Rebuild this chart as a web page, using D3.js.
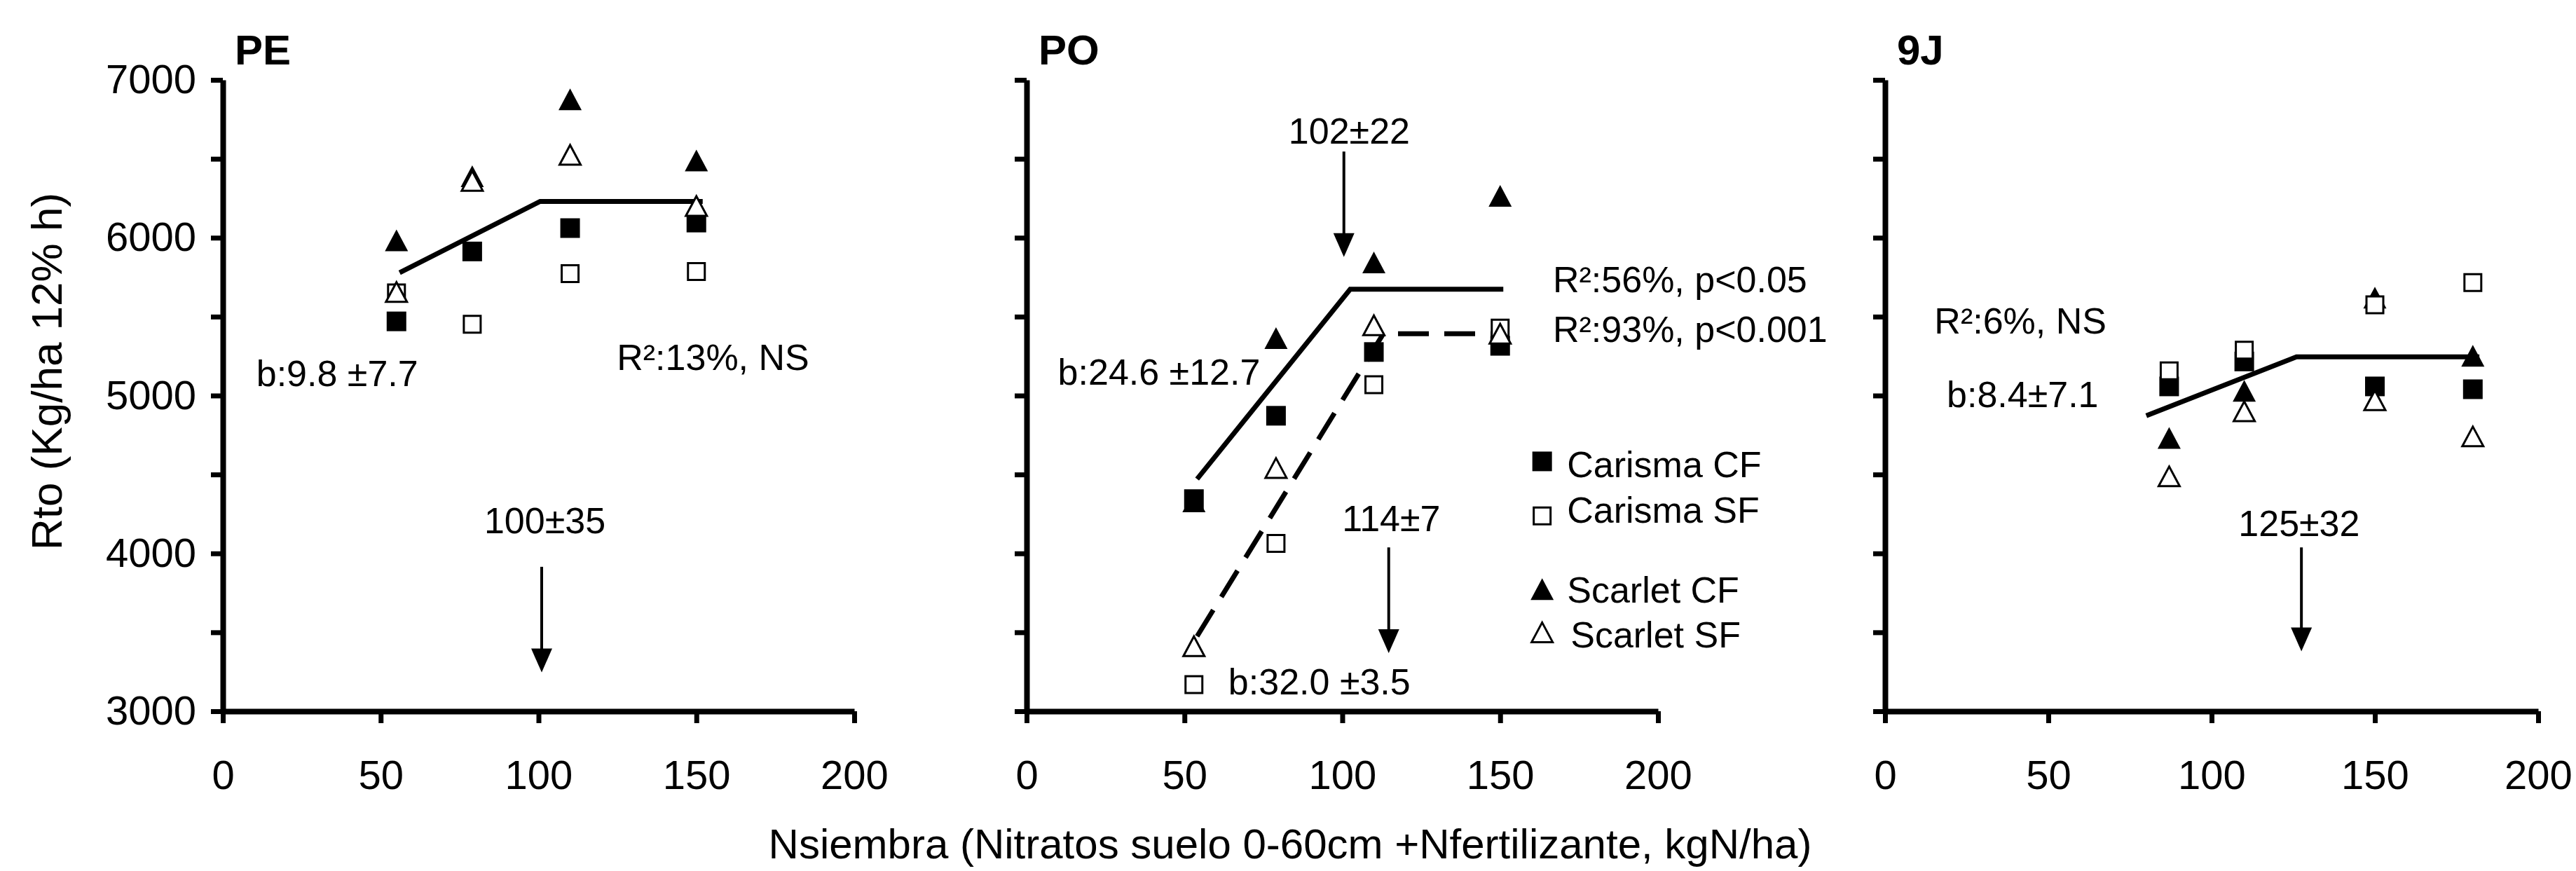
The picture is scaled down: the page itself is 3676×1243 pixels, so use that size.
<!DOCTYPE html>
<html>
<head>
<meta charset="utf-8">
<script src="https://cdn.jsdelivr.net/npm/d3@7"></script>
<style>
  body { margin: 0; background: #fff; }
  text { font-family: "Liberation Sans", Arial, sans-serif; fill: #000; }
</style>
</head>
<body>
<svg id="chart" width="3676" height="1243"></svg>
<script>
// N at sowing (kgN/ha) for each site
var xPE = [55, 79, 110, 150];
var xPO = [53, 79, 110, 150];
var x9J = [87, 110, 150, 180];

// yield (kg/ha 12% h), order follows the x arrays
var peCarismaCF = [5470, 5913, 6061, 6096];
var peCarismaSF = [5650, 5452, 5772, 5786];
var peScarletCF = [5983, 6390, 6877, 6490];
var peScarletSF = [5656, 6360, 6525, 6201];

var poCarismaCF = [4344, 4872, 5276, 5315];
var poCarismaSF = [3169, 4063, 5069, 5427];
var poScarletCF = [4330, 5364, 5843, 6265];
var poScarletSF = [3412, 4541, 5445, 5392];

var jCarismaCF = [5058, 5216, 5058, 5040];
var jCarismaSF = [5157, 5287, 5575, 5716];
var jScarletCF = [4731, 5030, 5620, 5252];
var jScarletSF = [4488, 4900, 4970, 4741];

// fitted linear-plateau models [x, y]
var peFit = [[56, 5779], [100.5, 6230], [152, 6230]];
var poFitCF = [[54, 4471], [102.5, 5674], [151, 5674]];
var poFitSF = [[54, 3475], [113, 5392], [150, 5392]];
var jFit = [[80, 4872], [126, 5245], [182, 5245]];

// critical N arrows [x, from, to]
var peArrow = [101, 3915, 3246];
var poArrows = [[100.5, 6546, 5878], [114.7, 4038, 3369]];
var jArrow = [127.5, 4038, 3380];

var xTicks = [0, 50, 100, 150, 200];
var yTicks = [3000, 3500, 4000, 4500, 5000, 5500, 6000, 6500, 7000];
var seriesNames = ['Carisma CF', 'Carisma SF', 'Scarlet CF', 'Scarlet SF'];

var svg = d3.select('#chart');
var yTop = 114, yBottom = 1015;
var y = d3.scaleLinear().domain([3000, 7000]).range([yBottom, yTop]);

var panels = [
  { name: 'PE', left: 318, right: 1219, xs: xPE, labels: true,
    series: [peCarismaCF, peScarletCF, peCarismaSF, peScarletSF],
    fits: [{ pts: peFit, dash: null }],
    arrows: [peArrow],
    notes: [
      { t: 'b:9.8 \u00b17.7', x: 10.6, y: 5058 },
      { t: 'R\u00b2:13%, NS', x: 124.8, y: 5164 },
      { t: '100\u00b135', x: 102, y: 4126, a: 'middle' }
    ] },
  { name: 'PO', left: 1465, right: 2366, xs: xPO, labels: false,
    series: [poCarismaCF, poScarletCF, poCarismaSF, poScarletSF],
    fits: [{ pts: poFitCF, dash: null }, { pts: poFitSF, dash: '44,22' }],
    arrows: poArrows,
    notes: [
      { t: '102\u00b122', x: 102.2, y: 6595, a: 'middle' },
      { t: 'b:24.6 \u00b112.7', x: 9.9, y: 5069 },
      { t: 'b:32.0 \u00b13.5', x: 63.9, y: 3106 },
      { t: 'R\u00b2:56%, p<0.05', x: 166.7, y: 5656 },
      { t: 'R\u00b2:93%, p<0.001', x: 166.7, y: 5340 },
      { t: '114\u00b17', x: 115.5, y: 4143, a: 'middle' }
    ],
    legend: true },
  { name: '9J', left: 2690, right: 3622, xs: x9J, labels: false,
    series: [jCarismaCF, jScarletCF, jCarismaSF, jScarletSF],
    fits: [{ pts: jFit, dash: null }],
    arrows: [jArrow],
    notes: [
      { t: 'R\u00b2:6%, NS', x: 15.1, y: 5392 },
      { t: 'b:8.4\u00b17.1', x: 18.9, y: 4928 },
      { t: '125\u00b132', x: 126.8, y: 4108, a: 'middle' }
    ] }
];

// draw order: filled square, filled triangle, open square, open triangle
var shapes = [
  { kind: 'sq', open: false },
  { kind: 'tri', open: false },
  { kind: 'sq', open: true },
  { kind: 'tri', open: true }
];

function markerPath(kind, open) {
  if (kind === 'sq') {
    var s = open ? 24 : 28;
    return 'M' + (-s / 2) + ',' + (-s / 2) + 'h' + s + 'v' + s + 'h' + (-s) + 'Z';
  }
  var w = open ? 30 : 33, h = open ? 28 : 31;
  return 'M0,' + (-h / 2) + 'L' + (w / 2) + ',' + (h / 2) + 'L' + (-w / 2) + ',' + (h / 2) + 'Z';
}

function drawMarker(g, kind, open, px, py) {
  g.append('path')
    .attr('d', markerPath(kind, open))
    .attr('transform', 'translate(' + px + ',' + py + ')')
    .attr('fill', open ? '#fff' : '#000')
    .attr('stroke', open ? '#000' : 'none')
    .attr('stroke-width', 3);
}

panels.forEach(function (p) {
  var x = d3.scaleLinear().domain([0, 200]).range([p.left, p.right]);
  var g = svg.append('g');

  // axes
  var gx = g.append('g')
    .attr('transform', 'translate(0,' + yBottom + ')')
    .call(d3.axisBottom(x).tickValues(xTicks).tickSize(17).tickSizeOuter(0).tickPadding(53));
  var gy = g.append('g')
    .attr('transform', 'translate(' + p.left + ',0)')
    .call(d3.axisLeft(y).tickValues(yTicks).tickSize(17).tickSizeOuter(0).tickPadding(21)
      .tickFormat(function (d) { return p.labels && d % 1000 === 0 ? d : ''; }));
  [gx, gy].forEach(function (a) {
    a.attr('font-family', null).attr('font-size', null);
    a.select('.domain').attr('stroke', '#000').attr('stroke-width', 8);
    a.selectAll('.tick line').attr('stroke', '#000').attr('stroke-width', 7);
    a.selectAll('.tick text').attr('font-size', 58).attr('fill', '#000');
  });

  // panel title
  g.append('text')
    .attr('x', p.left + 17).attr('y', 92)
    .attr('font-size', 60).attr('font-weight', 'bold')
    .text(p.name);

  // fitted lines
  var line = d3.line().x(function (d) { return x(d[0]); }).y(function (d) { return y(d[1]); });
  p.fits.forEach(function (f) {
    g.append('path')
      .attr('d', line(f.pts))
      .attr('fill', 'none')
      .attr('stroke', '#000')
      .attr('stroke-width', 7)
      .attr('stroke-dasharray', f.dash);
  });

  // points
  p.series.forEach(function (vals, si) {
    var sh = shapes[si];
    vals.forEach(function (v, i) {
      drawMarker(g, sh.kind, sh.open, x(p.xs[i]), y(v));
    });
  });

  // arrows
  p.arrows.forEach(function (a) {
    var ax = x(a[0]), y0 = y(a[1]), y1 = y(a[2]);
    g.append('line')
      .attr('x1', ax).attr('x2', ax)
      .attr('y1', y0).attr('y2', y1 - 30)
      .attr('stroke', '#000').attr('stroke-width', 4);
    g.append('path')
      .attr('d', 'M' + (ax - 15) + ',' + (y1 - 34) + 'L' + (ax + 15) + ',' + (y1 - 34) + 'L' + ax + ',' + y1 + 'Z')
      .attr('fill', '#000');
  });

  // annotations
  p.notes.forEach(function (n) {
    g.append('text')
      .attr('x', x(n.x)).attr('y', y(n.y))
      .attr('text-anchor', n.a || 'start')
      .attr('font-size', 52)
      .text(n.t);
  });

  // legend
  if (p.legend) {
    var legMarkY = [4583, 4238, 3774, 3500];
    var legTextY = [4485, 4196, 3686, 3405];
    var legOrder = [shapes[0], shapes[2], shapes[1], shapes[3]];
    seriesNames.forEach(function (name, i) {
      drawMarker(g, legOrder[i].kind, legOrder[i].open, x(163.3), y(legMarkY[i]));
      g.append('text')
        .attr('x', x(i === 3 ? 172.3 : 171.2)).attr('y', y(legTextY[i]))
        .attr('font-size', 52)
        .text(name);
    });
  }
});

// shared axis titles
svg.append('text')
  .attr('transform', 'translate(88,530) rotate(-90)')
  .attr('text-anchor', 'middle')
  .attr('font-size', 62)
  .text('Rto (Kg/ha 12% h)');

svg.append('text')
  .attr('x', 1841).attr('y', 1225)
  .attr('text-anchor', 'middle')
  .attr('font-size', 60)
  .text('Nsiembra (Nitratos suelo 0-60cm +Nfertilizante, kgN/ha)');
</script>
</body>
</html>
